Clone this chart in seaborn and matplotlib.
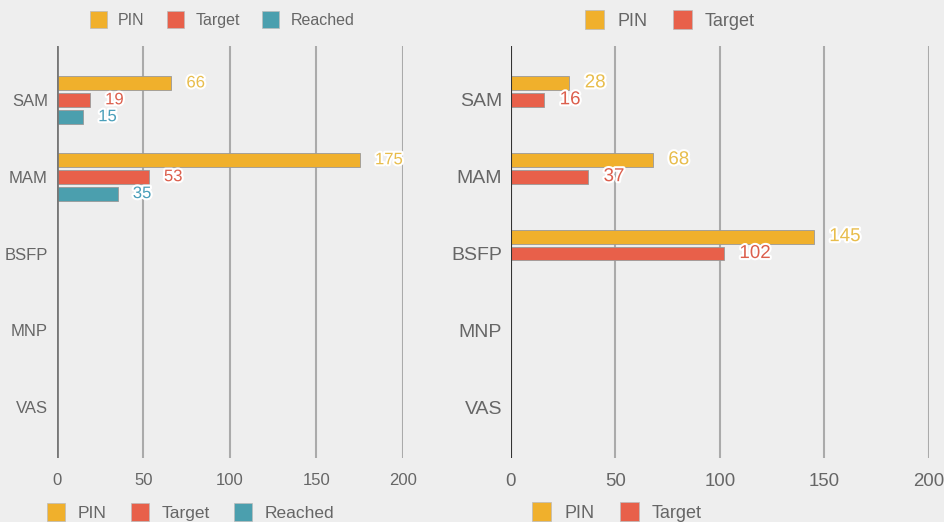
import pandas as pd
import numpy as np
import seaborn as sns
import matplotlib
matplotlib.use("Agg")
import matplotlib.pyplot as plt
import matplotlib.patheffects as pe
from matplotlib.patches import Patch

# Data

categories = ["SAM", "MAM", "BSFP", "MNP", "VAS"]
series = ["PIN", "Target", "Reached"]

left_pin = [66, 175]
left_target = [19, 53]
left_reached = [15, 35]
left_cats = ["SAM", "MAM"]

right_pin = [28, 68, 145]
right_target = [16, 37, 102]
right_cats = ["SAM", "MAM", "BSFP"]

bar_colors = {"PIN": "#f0b02c", "Target": "#e8604a", "Reached": "#4b9fae"}
label_colors = {"PIN": "#e8bd4c", "Target": "#dc5f4d", "Reached": "#4a9fba"}

BG = "#eeeeee"
TXT = "#666666"

sns.set_theme(style="white")
plt.rcParams['font.family'] = ['Liberation Sans', 'DejaVu Sans']

# long format frames

def make_df(cats, values):
    rows = []
    for name, vals in values.items():
        for c, v in zip(cats, vals):
            rows.append({"cat": c, "series": name, "value": v})
    return pd.DataFrame(rows)

df_left = make_df(left_cats, {"PIN": left_pin, "Target": left_target, "Reached": left_reached})
df_right = make_df(right_cats, {"PIN": right_pin, "Target": right_target})

fig = plt.figure(figsize=(9.45, 5.22), dpi=100, facecolor=BG)
ax1 = fig.add_axes([0.0603, 0.1226, 0.3661, 0.7893])
ax2 = fig.add_axes([0.5407, 0.1226, 0.4423, 0.7893])


def draw_panel(ax, df, axis_color, axis_width, ylab_size, xlab_size, val_size):
    ax.set_facecolor(BG)
    sns.barplot(data=df, x="value", y="cat", hue="series", order=categories,
                hue_order=series, palette=bar_colors, orient="h", width=0.66,
                gap=0.18, saturation=1, edgecolor="#999999", linewidth=0.6,
                legend=False, ax=ax, zorder=3)
    ax.set_xlim(0, 200)
    ax.set_ylim(4.66, -0.70)
    ax.set_xticks([0, 50, 100, 150, 200])
    ax.grid(axis="x", color="#aaaaaa", linewidth=1.5, zorder=0)
    ax.grid(axis="y", visible=False)
    for s in ax.spines.values():
        s.set_visible(False)
    ax.axvline(0, color=axis_color, linewidth=axis_width, zorder=4)
    ax.tick_params(axis="x", length=0, pad=11, labelsize=xlab_size, labelcolor=TXT)
    ax.tick_params(axis="y", length=0, pad=6.5, labelsize=ylab_size, labelcolor=TXT)
    ax.set_xlabel("")
    ax.set_ylabel("")

    # value labels
    for name, cont in zip([n for n in series if n in df["series"].unique()], ax.containers):
        for bar in cont:
            w = bar.get_width()
            if np.isnan(w):
                continue
            ax.annotate(f"{int(round(w))}", (w, bar.get_y() + bar.get_height() / 2),
                        xytext=(11, 0), textcoords="offset points", va="center",
                        ha="left", fontsize=val_size, color=label_colors[name],
                        annotation_clip=False, zorder=5,
                        path_effects=[pe.withStroke(linewidth=3, foreground="white")])


draw_panel(ax1, df_left, "#777777", 2, 12, 12, 12)
draw_panel(ax2, df_right, "#333333", 1.5, 14, 13.4, 13.5)


def add_legend(names, x, y, size):
    handles = [Patch(facecolor=bar_colors[n], edgecolor="#bbbbbb", linewidth=0.5) for n in names]
    leg = fig.legend(handles, names, loc="center", bbox_to_anchor=(x, y), ncol=len(names),
                     frameon=False, fontsize=size, handlelength=1.05, handleheight=1.25,
                     handletextpad=0.72, columnspacing=1.4, labelcolor=TXT)
    return leg


add_legend(series, 0.235, 0.962, 11.5)
add_legend(series, 0.2016, 0.019, 12.5)
add_legend(["PIN", "Target"], 0.709, 0.962, 13)
add_legend(["PIN", "Target"], 0.653, 0.019, 13)

fig.savefig("out.png", dpi=100, facecolor=BG)
